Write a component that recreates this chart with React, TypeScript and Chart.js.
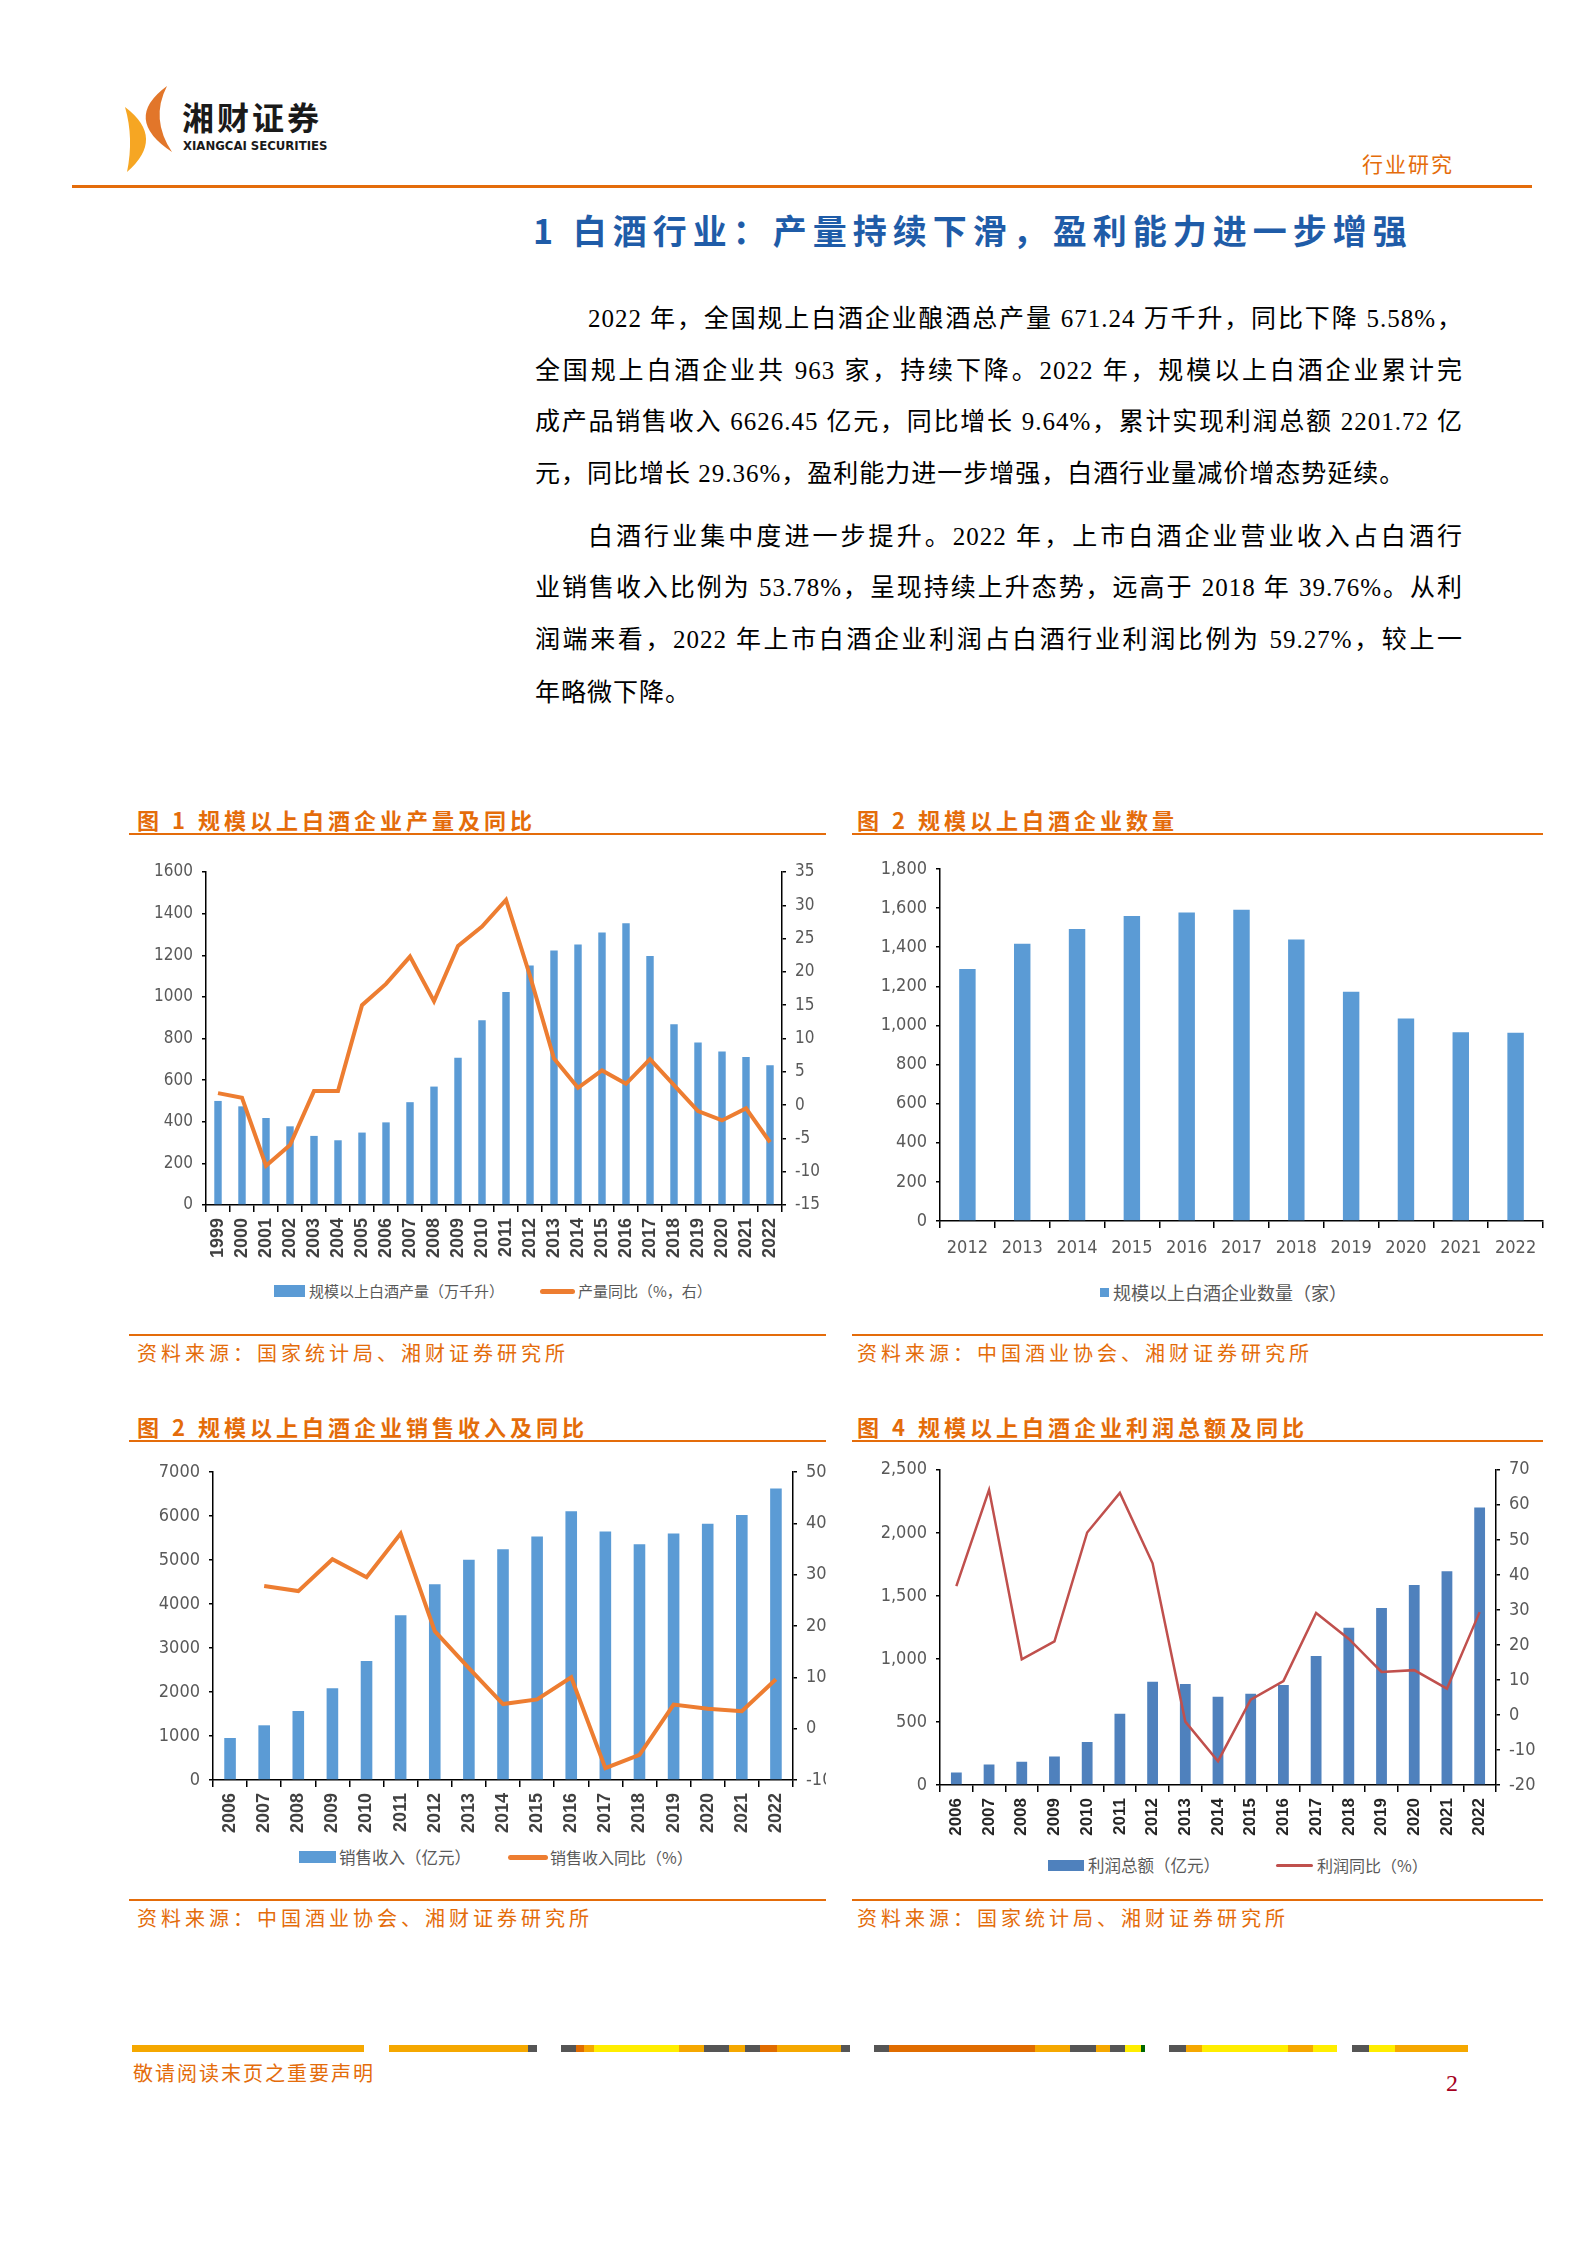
import React, { useEffect, useRef } from 'react';
import { Chart, registerables } from 'chart.js';
Chart.register(...registerables);

// ---------- DATA ----------
const years1 = ['1999','2000','2001','2002','2003','2004','2005','2006','2007','2008','2009','2010','2011','2012','2013','2014','2015','2016','2017','2018','2019','2020','2021','2022'];
const output1 = [500, 474, 418, 378, 332, 311, 348, 397, 494, 569, 707, 888, 1024, 1151, 1223, 1252, 1309, 1354, 1196, 869, 781, 737, 711, 671.24];
const outputYoY1 = [1.8, 1.1, -9.1, -6.0, 2.1, 2.1, 15.0, 18.2, 22.3, 15.6, 23.9, 26.8, 30.8, 19.4, 7.0, 2.6, 5.2, 3.2, 6.9, 3.0, -0.9, -2.3, -0.5, -5.58];

const years2 = ['2012','2013','2014','2015','2016','2017','2018','2019','2020','2021','2022'];
const firms2 = [1288, 1418, 1493, 1560, 1577, 1592, 1440, 1172, 1036, 965, 963];

const years3 = ['2006','2007','2008','2009','2010','2011','2012','2013','2014','2015','2016','2017','2018','2019','2020','2021','2022'];
const revenue3 = [955, 1243, 1569, 2085, 2707, 3745, 4450, 5004, 5246, 5534, 6110, 5648, 5360, 5603, 5823, 6020, 6626.45];
const revenueYoY3 = [null, 27.8, 26.8, 33.0, 29.5, 38.0, 19.0, 11.8, 4.8, 5.7, 10.0, -7.7, -5.1, 4.7, 3.9, 3.4, 9.64];

const years4 = ['2006','2007','2008','2009','2010','2011','2012','2013','2014','2015','2016','2017','2018','2019','2020','2021','2022'];
const profit4 = [99, 163, 184, 226, 342, 565, 819, 801, 700, 724, 794, 1024, 1247, 1403, 1587, 1696, 2201.72];
const profitYoY4 = [36.8, 64.3, 15.9, 21.0, 52.1, 63.4, 43.3, -1.9, -13.2, 4.4, 9.7, 29.1, 21.7, 12.3, 12.8, 7.5, 29.36];

// ---------- STYLE ----------
const NARROW = "'Liberation Sans Narrow', 'Arial Narrow', 'DejaVu Sans Condensed', 'Noto Sans', sans-serif";
const SANS = "'Liberation Sans', Arial, sans-serif";
const CJK = "'Noto Sans CJK SC', sans-serif";
const SERIF = "'Liberation Serif', 'Noto Sans CJK SC', serif";
const GRAY = '#595959';
const ORANGE = '#E46C0A';
const BAR_BLUE = '#5B9BD5';
const LINE_ORANGE = '#ED7D31';
const BAR_DARK = '#4F81BD';
const LINE_RED = '#C0504D';

const commaFmt = (v: any) => Number(v).toLocaleString('en-US');
const plainFmt = (v: any) => String(v);

function yAxis(pos: 'left' | 'right', min: number, max: number, step: number, width: number, size: number, fmt: (v: any) => string) {
  return {
    position: pos, min, max,
    ticks: { stepSize: step, color: GRAY, font: { family: NARROW, size }, padding: 9, callback: fmt },
    grid: { drawOnChartArea: false, drawTicks: true, tickLength: 4, color: '#000', lineWidth: 1.5 },
    border: { display: true, color: '#000', width: 1.5 },
    afterFit: (s: any) => { s.width = width; },
  };
}

function xAxis(height: number, rotated: boolean, tickFont: any, color: string, padding: number) {
  return {
    ticks: { color, font: tickFont, autoSkip: false, maxRotation: rotated ? 90 : 0, minRotation: rotated ? 90 : 0, padding },
    grid: { display: true, drawOnChartArea: false, drawTicks: true, tickLength: 7, color: '#000', lineWidth: 1.5, offset: true },
    border: { color: '#000', width: 1.5 },
    afterFit: (s: any) => { s.height = height; },
  };
}

const basePlugins = { legend: { display: false }, tooltip: { enabled: false } };

function ChartBox({ left, top, width, height, build }: { left: number; top: number; width: number; height: number; build: () => any }) {
  const ref = useRef<HTMLCanvasElement>(null);
  useEffect(() => {
    const chart = new Chart(ref.current as HTMLCanvasElement, build());
    return () => chart.destroy();
  }, []);
  return <canvas ref={ref} width={width} height={height} style={{ position: 'absolute', left, top, width, height }} />;
}

const chart1 = () => ({
  data: {
    labels: years1,
    datasets: [
      { type: 'line', label: '产量同比（%，右）', data: outputYoY1, yAxisID: 'y1', borderColor: LINE_ORANGE, borderWidth: 4, pointRadius: 0, tension: 0, order: 0 },
      { type: 'bar', label: '规模以上白酒产量（万千升）', data: output1, yAxisID: 'y', backgroundColor: BAR_BLUE, barPercentage: 0.31, categoryPercentage: 1, order: 1 },
    ],
  },
  options: {
    responsive: false, animation: false, devicePixelRatio: 1,
    layout: { padding: { top: 27, left: 0, right: 0, bottom: 0 } },
    plugins: basePlugins,
    scales: {
      x: xAxis(60, true, { family: SANS, size: 18, weight: 'bold' }, '#404040', 6),
      y: yAxis('left', 0, 1600, 200, 77, 17, plainFmt),
      y1: yAxis('right', -15, 35, 5, 44, 17, plainFmt),
    },
  },
});

const chart2 = () => ({
  type: 'bar',
  data: {
    labels: years2,
    datasets: [
      { label: '规模以上白酒企业数量（家）', data: firms2, backgroundColor: BAR_BLUE, barPercentage: 0.3, categoryPercentage: 1 },
    ],
  },
  options: {
    responsive: false, animation: false, devicePixelRatio: 1,
    layout: { padding: { top: 24, left: 0, right: 9, bottom: 0 } },
    plugins: basePlugins,
    scales: {
      x: xAxis(44, false, { family: NARROW, size: 18 }, GRAY, 10),
      y: yAxis('left', 0, 1800, 200, 88, 18, commaFmt),
    },
  },
});

const chart3 = () => ({
  data: {
    labels: years3,
    datasets: [
      { type: 'line', label: '销售收入同比（%）', data: revenueYoY3, yAxisID: 'y1', borderColor: LINE_ORANGE, borderWidth: 4, pointRadius: 0, tension: 0, order: 0 },
      { type: 'bar', label: '销售收入（亿元）', data: revenue3, yAxisID: 'y', backgroundColor: BAR_BLUE, barPercentage: 0.34, categoryPercentage: 1, order: 1 },
    ],
  },
  options: {
    responsive: false, animation: false, devicePixelRatio: 1,
    layout: { padding: { top: 22, left: 0, right: 0, bottom: 0 } },
    plugins: basePlugins,
    scales: {
      x: xAxis(60, true, { family: SANS, size: 18, weight: 'bold' }, '#404040', 6),
      y: yAxis('left', 0, 7000, 1000, 84, 18, plainFmt),
      y1: yAxis('right', -10, 50, 10, 33, 18, plainFmt),
    },
  },
});

const chart4 = () => ({
  data: {
    labels: years4,
    datasets: [
      { type: 'line', label: '利润同比（%）', data: profitYoY4, yAxisID: 'y1', borderColor: LINE_RED, borderWidth: 2.5, pointRadius: 0, tension: 0, order: 0 },
      { type: 'bar', label: '利润总额（亿元）', data: profit4, yAxisID: 'y', backgroundColor: BAR_DARK, barPercentage: 0.33, categoryPercentage: 1, order: 1 },
    ],
  },
  options: {
    responsive: false, animation: false, devicePixelRatio: 1,
    layout: { padding: { top: 14, left: 0, right: 0, bottom: 0 } },
    plugins: basePlugins,
    scales: {
      x: xAxis(60, true, { family: SANS, size: 17, weight: 'bold' }, '#262626', 6),
      y: yAxis('left', 0, 2500, 500, 88, 18, commaFmt),
      y1: yAxis('right', -20, 70, 10, 50, 18, plainFmt),
    },
  },
});

// ---------- PAGE PIECES ----------
const abs = (s: any) => ({ position: 'absolute' as const, ...s });

function Legend({ x, y, kind, color, w, h, text, size, textX }: any) {
  return (
    <>
      <div style={abs({ left: x, top: y - h / 2, width: w, height: h, background: color, borderRadius: kind === 'line' ? h / 2 : 0 })} />
      <div style={abs({ left: textX, top: y - 15, height: 30, lineHeight: '30px', fontSize: size, color: GRAY, fontFamily: CJK, whiteSpace: 'nowrap' })}>{text}</div>
    </>
  );
}

function Title({ x, y, text }: any) {
  return <div style={abs({ left: x, top: y - 16, height: 32, lineHeight: '32px', fontSize: 22, fontWeight: 700, color: ORANGE, fontFamily: CJK, letterSpacing: 4, whiteSpace: 'nowrap' })}>{text}</div>;
}
function Source({ x, y, text }: any) {
  return <div style={abs({ left: x, top: y - 15, height: 30, lineHeight: '30px', fontSize: 20, color: ORANGE, fontFamily: CJK, letterSpacing: 4, whiteSpace: 'nowrap' })}>{text}</div>;
}
function HLine({ x1, x2, y, t = 2 }: any) {
  return <div style={abs({ left: x1, top: y - t / 2, width: x2 - x1, height: t, background: ORANGE })} />;
}

const para1 = [
  '2022 年，全国规上白酒企业酿酒总产量 671.24 万千升，同比下降 5.58%，',
  '全国规上白酒企业共 963 家，持续下降。2022 年，规模以上白酒企业累计完',
  '成产品销售收入 6626.45 亿元，同比增长 9.64%，累计实现利润总额 2201.72 亿',
  '元，同比增长 29.36%，盈利能力进一步增强，白酒行业量减价增态势延续。',
];
const para2 = [
  '白酒行业集中度进一步提升。2022 年，上市白酒企业营业收入占白酒行',
  '业销售收入比例为 53.78%，呈现持续上升态势，远高于 2018 年 39.76%。从利',
  '润端来看，2022 年上市白酒企业利润占白酒行业利润比例为 59.27%，较上一',
  '年略微下降。',
];
const lineY1 = [319, 371, 422, 474];
const lineY2 = [537, 588, 640, 693];

const footerSegs: [number, number, string][] = [
  [132, 364, '#F5A800'], [389, 528, '#F5A800'], [528, 537, '#555'], [561, 576, '#555'], [576, 584, '#E06C00'],
  [584, 594, '#F5A800'], [594, 679, '#FFEE00'], [679, 704, '#F5A800'], [704, 729, '#555'], [729, 745, '#F5A800'],
  [745, 760, '#555'], [760, 777, '#E06C00'], [777, 841, '#F5A800'], [841, 850, '#555'], [874, 889, '#555'],
  [889, 1035, '#E06C00'], [1035, 1070, '#F5A800'], [1070, 1096, '#555'], [1096, 1110, '#F5A800'], [1110, 1125, '#555'],
  [1125, 1141, '#FFEE00'], [1141, 1145, '#006600'], [1169, 1186, '#555'], [1186, 1202, '#F5A800'], [1202, 1288, '#FFEE00'],
  [1288, 1313, '#F5A800'], [1313, 1337, '#FFEE00'], [1352, 1369, '#555'], [1369, 1395, '#FFEE00'], [1395, 1468, '#F5A800'],
];

function TextLine({ y, text, indent, justify }: any) {
  return (
    <div style={abs({
      left: 535 + (indent ? 53 : 0), top: y - 20, width: 928 - (indent ? 53 : 0), height: 40, lineHeight: '40px',
      fontSize: 25, fontFamily: SERIF, color: '#000', letterSpacing: 1, whiteSpace: 'nowrap',
      textAlign: justify ? 'justify' : 'left', textAlignLast: justify ? 'justify' : 'left',
    })}>{text}</div>
  );
}

export default function App() {
  return (
    <div style={{ position: 'absolute', left: 0, top: 0, width: 1586, height: 2244, background: '#fff', overflow: 'hidden' }}>
      {/* header logo */}
      <svg style={abs({ left: 0, top: 0 })} width={200} height={200}>
        <path d="M125,107 Q166,138 127,172 Q134,138 125,107 Z" fill="#F6A623" />
        <path d="M167,86 Q122,119 172,152 Q150,119 167,86 Z" fill="#E2762A" />
      </svg>
      <div style={abs({ left: 182, top: 98, height: 36, lineHeight: '36px', fontSize: 32, fontWeight: 700, fontFamily: CJK, color: '#1a1a1a', letterSpacing: 3, whiteSpace: 'nowrap' })}>湘财证券</div>
      <div style={abs({ left: 183, top: 138, height: 15, lineHeight: '15px', fontSize: 13, fontWeight: 700, fontFamily: NARROW, color: '#1a1a1a', whiteSpace: 'nowrap' })}>XIANGCAI SECURITIES</div>
      <div style={abs({ left: 1362, top: 148, height: 30, lineHeight: '30px', fontSize: 21, fontFamily: CJK, color: ORANGE, letterSpacing: 2, whiteSpace: 'nowrap' })}>行业研究</div>
      <HLine x1={72} x2={1532} y={186} t={3} />

      {/* heading */}
      <div style={abs({ left: 533, top: 208, height: 44, lineHeight: '44px', fontSize: 34, fontWeight: 700, fontFamily: CJK, color: '#1F5CA8', letterSpacing: 6, whiteSpace: 'nowrap' })}>1 白酒行业：产量持续下滑，盈利能力进一步增强</div>

      {para1.map((t, i) => <TextLine key={'a' + i} y={lineY1[i]} text={t} indent={i === 0} justify={i < 3} />)}
      {para2.map((t, i) => <TextLine key={'b' + i} y={lineY2[i]} text={t} indent={i === 0} justify={i < 3} />)}

      {/* chart titles row 1 */}
      <Title x={137} y={819} text="图 1 规模以上白酒企业产量及同比" />
      <HLine x1={129} x2={826} y={834} />
      <Title x={857} y={819} text="图 2 规模以上白酒企业数量" />
      <HLine x1={852} x2={1543} y={834} />

      <ChartBox left={129} top={845} width={697} height={420} build={chart1} />
      <Legend x={274} y={1291} kind="box" color={BAR_BLUE} w={31} h={12} textX={309} size={15} text="规模以上白酒产量（万千升）" />
      <Legend x={540} y={1291} kind="line" color={LINE_ORANGE} w={35} h={5} textX={578} size={15} text="产量同比（%，右）" />

      <ChartBox left={852} top={845} width={700} height={420} build={chart2} />
      <Legend x={1100} y={1292} kind="box" color={BAR_BLUE} w={9} h={9} textX={1113} size={18} text="规模以上白酒企业数量（家）" />

      <HLine x1={129} x2={826} y={1335} />
      <Source x={137} y={1353} text="资料来源：国家统计局、湘财证券研究所" />
      <HLine x1={852} x2={1543} y={1335} />
      <Source x={857} y={1353} text="资料来源：中国酒业协会、湘财证券研究所" />

      {/* chart titles row 2 */}
      <Title x={137} y={1426} text="图 2 规模以上白酒企业销售收入及同比" />
      <HLine x1={129} x2={826} y={1441} />
      <Title x={857} y={1426} text="图 4 规模以上白酒企业利润总额及同比" />
      <HLine x1={852} x2={1543} y={1441} />

      <ChartBox left={129} top={1450} width={697} height={390} build={chart3} />
      <Legend x={299} y={1857} kind="box" color={BAR_BLUE} w={37} h={12} textX={339} size={16.5} text="销售收入（亿元）" />
      <Legend x={508} y={1857} kind="line" color={LINE_ORANGE} w={40} h={5} textX={550} size={16} text="销售收入同比（%）" />

      <ChartBox left={852} top={1450} width={694} height={395} build={chart4} />
      <Legend x={1048} y={1865} kind="box" color={BAR_DARK} w={36} h={11} textX={1088} size={16.5} text="利润总额（亿元）" />
      <Legend x={1276} y={1865} kind="line" color={LINE_RED} w={37} h={3} textX={1317} size={16} text="利润同比（%）" />

      <HLine x1={129} x2={826} y={1900} />
      <Source x={137} y={1918} text="资料来源：中国酒业协会、湘财证券研究所" />
      <HLine x1={852} x2={1543} y={1900} />
      <Source x={857} y={1918} text="资料来源：国家统计局、湘财证券研究所" />

      {/* footer */}
      {footerSegs.map(([a, b, c], i) => <div key={'f' + i} style={abs({ left: a, top: 2045, width: b - a, height: 7, background: c })} />)}
      <div style={abs({ left: 133, top: 2058, height: 30, lineHeight: '30px', fontSize: 20, fontFamily: CJK, color: ORANGE, letterSpacing: 2, whiteSpace: 'nowrap' })}>敬请阅读末页之重要声明</div>
      <div style={abs({ left: 1446, top: 2068, height: 30, lineHeight: '30px', fontSize: 24, fontFamily: SERIF, color: '#A50021' })}>2</div>
    </div>
  );
}
